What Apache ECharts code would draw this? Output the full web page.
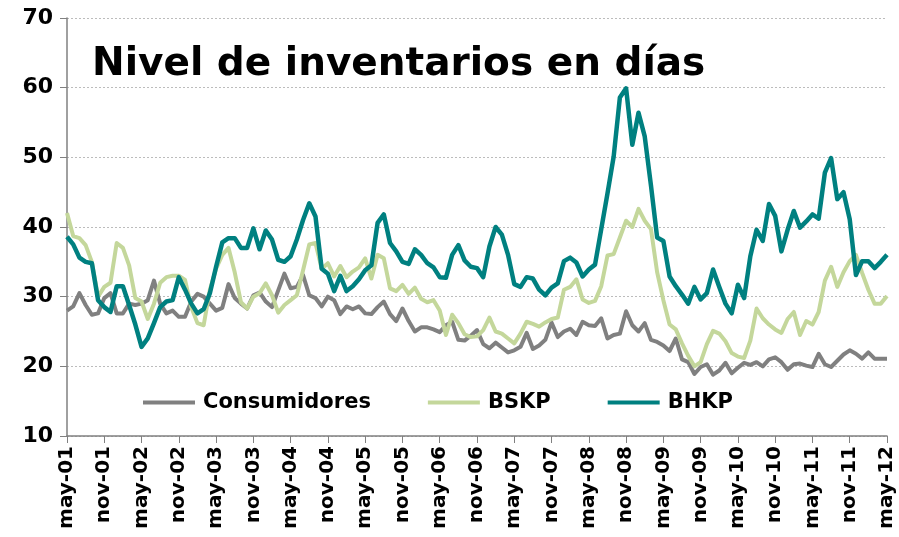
<!DOCTYPE html>
<html lang="es">
<head>
    <meta charset="UTF-8">
    <title>Nivel de inventarios en días</title>
    <script src="https://cdn.jsdelivr.net/npm/echarts@6/dist/echarts.min.js"></script>
</head>
<body style="margin:0;background:#fff">
<div id="chart" style="width:899px;height:537px"></div>
<script>
    // meses: may-01 .. may-12
    var monthNames = ['ene', 'feb', 'mar', 'abr', 'may', 'jun', 'jul', 'ago', 'sep', 'oct', 'nov', 'dic'];
    var startMonth = 4, startYear = 1, nMonths = 133;

    var consumidores = [
        28.0, 28.6, 30.5, 28.8, 27.4, 27.6, 29.8, 30.5, 27.6, 27.6, 29.0, 28.8,
        29.0, 29.5, 32.3, 29.0, 27.6, 28.0, 27.1, 27.1, 29.3, 30.4, 30.0, 29.0,
        28.0, 28.4, 31.8, 29.8, 29.0, 28.3, 30.2, 30.6, 29.3, 28.5, 30.9, 33.3,
        31.2, 31.4, 33.1, 30.2, 29.8, 28.6, 30.0, 29.5, 27.5, 28.6, 28.2, 28.6,
        27.6, 27.5, 28.5, 29.3, 27.5, 26.5, 28.3, 26.5, 25.0, 25.6, 25.6, 25.3,
        24.9, 25.9, 26.4, 23.8, 23.7, 24.4, 25.2, 23.2, 22.6, 23.4, 22.7, 22.0,
        22.3, 22.8, 24.8, 22.5, 23.0, 23.8, 26.3, 24.2, 25.0, 25.4, 24.5, 26.4,
        25.9, 25.8, 26.9, 24.0, 24.5, 24.7, 27.9, 25.9, 25.0, 26.2, 23.8, 23.5,
        23.0, 22.2, 24.0, 21.0, 20.6, 18.9, 19.9, 20.3, 18.8, 19.4, 20.5, 19.0,
        19.8, 20.5, 20.2, 20.6, 20.0, 21.0, 21.3, 20.6, 19.5, 20.3, 20.4, 20.1,
        19.9, 21.8, 20.3, 19.9, 20.8, 21.7, 22.3, 21.8, 21.1, 22.0, 21.1, 21.1,
        21.1
    ];
    var bskp = [
        42.0, 38.7, 38.4, 37.4, 35.0, 30.0, 31.4, 32.0, 37.7, 37.0, 34.5, 29.8,
        29.3, 26.8, 29.0, 32.0, 32.8, 33.0, 33.0, 32.4, 28.5, 26.2, 25.9, 31.0,
        34.0, 36.0, 37.0, 33.5, 29.2, 28.3, 30.0, 30.5, 31.9, 30.2, 27.7, 28.8,
        29.5, 30.2, 33.8, 37.5, 37.7, 34.0, 34.8, 32.9, 34.4, 32.8, 33.6, 34.2,
        35.5, 32.6, 36.0, 35.5, 31.2, 30.8, 31.7, 30.4, 31.3, 29.7, 29.2, 29.5,
        28.0, 24.5, 27.4, 26.2, 24.6, 24.2, 24.3, 25.2, 27.0, 25.0, 24.7, 24.0,
        23.3, 24.7, 26.4, 26.1, 25.7, 26.3, 26.8, 27.0, 31.0, 31.4, 32.5, 29.6,
        29.1, 29.4, 31.5, 35.9, 36.1, 38.5, 40.9, 40.0, 42.6, 40.9, 39.7, 33.5,
        29.5, 26.0, 25.3, 23.3, 21.5, 20.0, 20.6, 23.2, 25.1, 24.7, 23.6, 21.9,
        21.4, 21.2, 23.7, 28.3, 26.9, 26.0, 25.3, 24.8, 26.8, 27.8, 24.5, 26.5,
        26.0, 27.8, 32.3, 34.3, 31.4, 33.5, 35.1, 36.0, 33.4, 31.0, 29.0, 29.0,
        30.1
    ];
    var bhkp = [
        38.6, 37.5, 35.6, 35.0, 34.8, 29.5, 28.5, 27.8, 31.5, 31.5, 28.8, 26.0,
        22.8, 24.0, 26.2, 28.5, 29.3, 29.5, 32.8, 31.0, 29.0, 27.6, 28.2, 30.5,
        34.3, 37.8, 38.4, 38.4, 37.0, 37.0, 39.8, 36.8, 39.5, 38.2, 35.3, 35.0,
        35.8, 38.2, 41.0, 43.4, 41.5, 34.0, 33.3, 30.8, 33.0, 30.8, 31.5, 32.5,
        33.8, 34.5, 40.6, 41.8, 37.7, 36.5, 35.0, 34.7, 36.8, 36.0, 34.8, 34.2,
        32.8, 32.7, 36.0, 37.4, 35.2, 34.3, 34.1, 32.8, 37.2, 40.0, 38.9, 36.0,
        31.8, 31.4, 32.8, 32.6, 31.0, 30.2, 31.3, 31.9, 35.1, 35.6, 34.9, 32.9,
        33.9, 34.6, 39.7, 44.8, 50.1, 58.6, 59.9, 51.8, 56.4, 53.0, 46.0, 38.5,
        38.0, 32.9, 31.5, 30.3, 29.0, 31.4, 29.6, 30.5, 33.9, 31.4, 29.0, 27.6,
        31.7, 29.8, 35.8, 39.6, 38.0, 43.3, 41.6, 36.5, 39.6, 42.3, 39.9, 40.8,
        41.8, 41.2, 47.8, 49.9, 44.0, 45.0, 41.1, 33.1, 35.1, 35.1, 34.1, 35.0,
        36.0
    ];

    var categories = [];
    for (var k = 0; k < nMonths; k++) {
        var m = (startMonth + k) % 12;
        var y = startYear + Math.floor((startMonth + k) / 12);
        categories.push(monthNames[m] + '-' + (y < 10 ? '0' + y : '' + y));
    }

    var font = 'DejaVu Sans';
    var _chart = echarts.init(document.getElementById('chart'));

    var option = {
        animation: false,
        title: {
            text: 'Nivel de inventarios en días',
            left: 87,
            top: 40,
            textStyle: {fontFamily: font, fontSize: 39, fontWeight: 'bold', color: '#000'}
        },
        legend: {
            left: 138,
            top: 387,
            icon: 'rect',
            itemWidth: 52,
            itemHeight: 4,
            itemGap: 57,
            textStyle: {fontFamily: font, fontSize: 21, fontWeight: 'bold', color: '#000', padding: [0, 0, 0, 3]},
            data: ['Consumidores', 'BSKP', 'BHKP']
        },
        grid: {left: 67, right: 12, top: 18, bottom: 101},
        xAxis: {
            type: 'category',
            boundaryGap: false,
            data: categories,
            axisLine: {lineStyle: {color: '#808080', width: 1.5}},
            axisTick: {interval: 5, length: 7, lineStyle: {color: '#808080'}},
            axisLabel: {
                interval: 5,
                rotate: 90,
                margin: 10,
                fontFamily: font,
                fontSize: 20,
                fontWeight: 'bold',
                color: '#000'
            }
        },
        yAxis: {
            type: 'value',
            min: 10,
            max: 70,
            interval: 10,
            axisLine: {show: true, lineStyle: {color: '#808080', width: 1.5}},
            axisTick: {show: true, length: 7, lineStyle: {color: '#808080'}},
            axisLabel: {margin: 14, fontFamily: font, fontSize: 22, fontWeight: 'bold', color: '#000'},
            splitLine: {lineStyle: {color: '#bcbcbc', type: [2, 2], width: 1}}
        },
        series: [
            {
                name: 'Consumidores', type: 'line', data: consumidores, symbol: 'none',
                lineStyle: {color: '#808080', width: 4, join: 'round'}, itemStyle: {color: '#808080'}
            },
            {
                name: 'BSKP', type: 'line', data: bskp, symbol: 'none',
                lineStyle: {color: '#c4d79b', width: 4, join: 'round'}, itemStyle: {color: '#c4d79b'}
            },
            {
                name: 'BHKP', type: 'line', data: bhkp, symbol: 'none',
                lineStyle: {color: '#008080', width: 4.5, join: 'round'}, itemStyle: {color: '#008080'}
            }
        ]
    };
    _chart.setOption(option, true);
</script>
</body>
</html>
